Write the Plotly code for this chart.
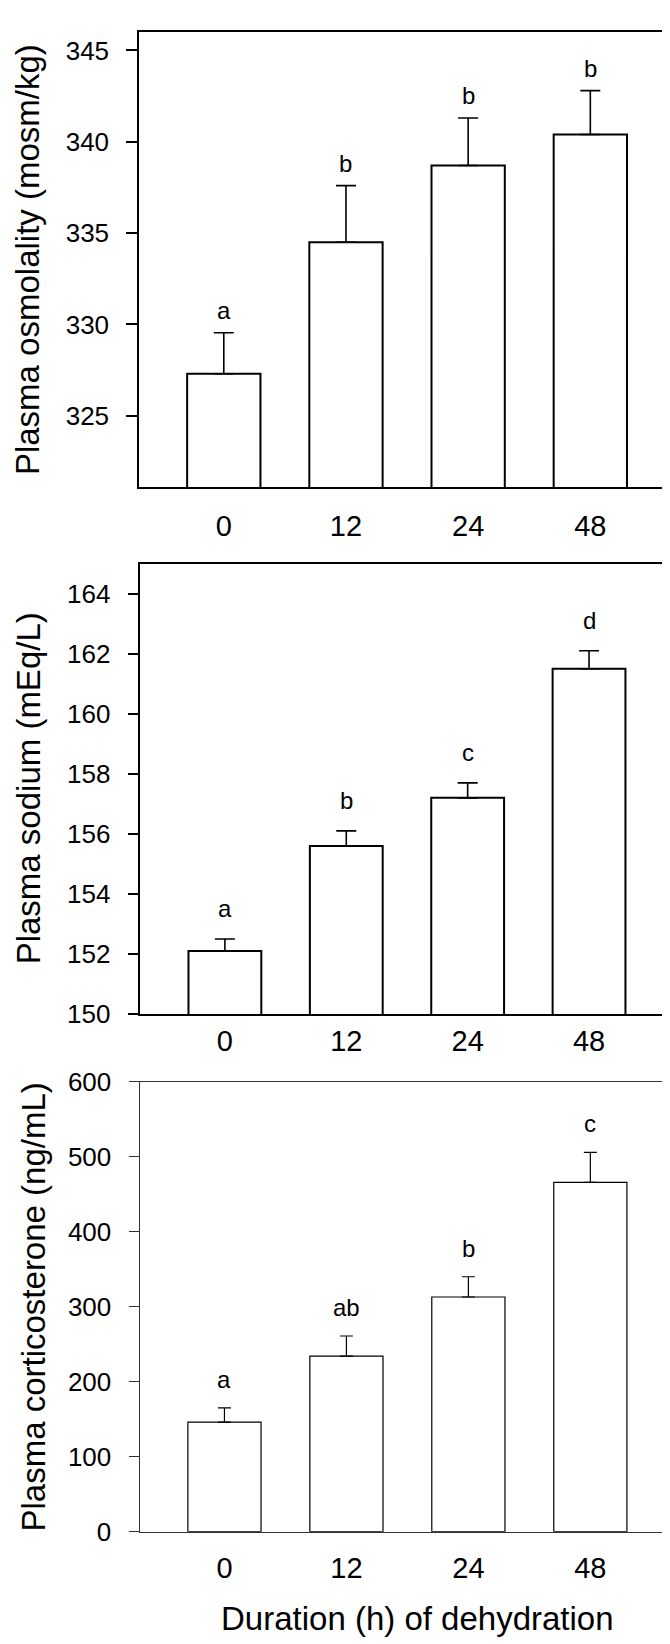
import plotly.graph_objects as go

# ---------------- data ----------------
durations = ["0", "12", "24", "48"]

osm_mean = [327.3, 334.5, 338.7, 340.4]
osm_se = [2.25, 3.1, 2.6, 2.4]
osm_letters = ["a", "b", "b", "b"]

na_mean = [152.1, 155.6, 157.2, 161.5]
na_se = [0.4, 0.5, 0.5, 0.6]
na_letters = ["a", "b", "c", "d"]

cort_mean = [146, 234, 313, 466]
cort_se = [19, 27, 27, 40]
cort_letters = ["a", "ab", "b", "c"]

osm_ticks = [325, 330, 335, 340, 345]
na_ticks = [150, 152, 154, 156, 158, 160, 162, 164]
cort_ticks = [0, 100, 200, 300, 400, 500, 600]

y_titles = ["Plasma osmolality (mosm/kg)", "Plasma sodium (mEq/L)", "Plasma corticosterone (ng/mL)"]
x_title = "Duration (h) of dehydration"

# ---------------- layout helpers ----------------
W, H = 670, 1644
FONT = "Liberation Sans, Arial, sans-serif"


def px(x):
    return x / W


def py(y):
    return 1 - y / H


panels = [
    dict(mean=osm_mean, se=osm_se, letters=osm_letters, ticks=osm_ticks, yr=[321.1, 346.0],
         xd=[131, 661.5], yd=[9.3, 472.7], xr=[-0.694, 3.648], lw=2, bar_lw=2, err_lw=1.6,
         cap=10, line_color="black", xstand=12, lshift=7, title_x=19.5, tick_w=1.6),
    dict(mean=na_mean, se=na_se, letters=na_letters, ticks=na_ticks, yr=[150, 165.0],
         xd=[132.3, 666], yd=[550.7, 1009.5], xr=[-0.697, 3.70], lw=2, bar_lw=2, err_lw=1.6,
         cap=10, line_color="black", xstand=0, lshift=15, title_x=20.5, tick_w=1.6),
    dict(mean=cort_mean, se=cort_se, letters=cort_letters, ticks=cort_ticks, yr=[0, 600],
         xd=[132.3, 666.5], yd=[1078.5, 1536.7], xr=[-0.69, 3.69], lw=1.2, bar_lw=1.2, err_lw=1.2,
         cap=6.5, line_color="#333333", xstand=10, lshift=13, title_x=25.8, tick_w=1.2),
]

fig = go.Figure()
annotations = []

for i, p in enumerate(panels):
    k = "" if i == 0 else str(i + 1)
    xa, ya = "x" + k, "y" + k
    fig.add_trace(go.Bar(
        x=durations, y=p["mean"], xaxis=xa, yaxis=ya, width=0.6,
        marker=dict(color="white", line=dict(color="black", width=p["bar_lw"])),
        error_y=dict(type="data", symmetric=False, array=p["se"], arrayminus=[0] * len(p["se"]),
                     color="black", thickness=p["err_lw"], width=p["cap"]),
        showlegend=False, hoverinfo="x+y",
    ))
    common_axis = dict(showline=True, linecolor=p["line_color"], linewidth=p["lw"], mirror=True,
                       showgrid=False, zeroline=False)
    fig.layout["xaxis" + k] = dict(
        domain=[px(p["xd"][0]), px(p["xd"][1])], anchor=ya, type="category",
        categoryorder="array", categoryarray=durations, range=p["xr"], ticks="",
        tickfont=dict(family=FONT, size=29, color="black"), ticklabelstandoff=p["xstand"],
        **common_axis)
    fig.layout["yaxis" + k] = dict(
        domain=[py(p["yd"][1]), py(p["yd"][0])], anchor=xa, range=p["yr"],
        tickmode="array", tickvals=p["ticks"], ticks="outside", ticklen=10.7,
        tickwidth=p["tick_w"], tickcolor=p["line_color"],
        tickfont=dict(family=FONT, size=26, color="black"), ticklabelstandoff=12,
        **common_axis)
    # significance letters (x given as category index)
    for j, (m, s, t) in enumerate(zip(p["mean"], p["se"], p["letters"])):
        annotations.append(dict(x=j, y=m + s, xref=xa, yref=ya, text=t, showarrow=False,
                                xanchor="center", yanchor="bottom", yshift=p["lshift"],
                                font=dict(family=FONT, size=24, color="black")))
    # y-axis title
    annotations.append(dict(x=px(p["title_x"]), y=py((p["yd"][0] + p["yd"][1]) / 2),
                            xref="paper", yref="paper", text=y_titles[i], textangle=-90,
                            showarrow=False, xanchor="center", yanchor="middle",
                            font=dict(family=FONT, size=33, color="black")))

annotations.append(dict(x=px(409), y=py(1625), xref="paper", yref="paper", text=x_title,
                        showarrow=False, xanchor="center", yanchor="middle",
                        font=dict(family=FONT, size=33, color="black")))

fig.update_layout(width=W, height=H, margin=dict(l=0, r=0, t=0, b=0),
                  paper_bgcolor="white", plot_bgcolor="white", annotations=annotations,
                  font=dict(family=FONT, color="black"))

fig.write_html("out.html")
